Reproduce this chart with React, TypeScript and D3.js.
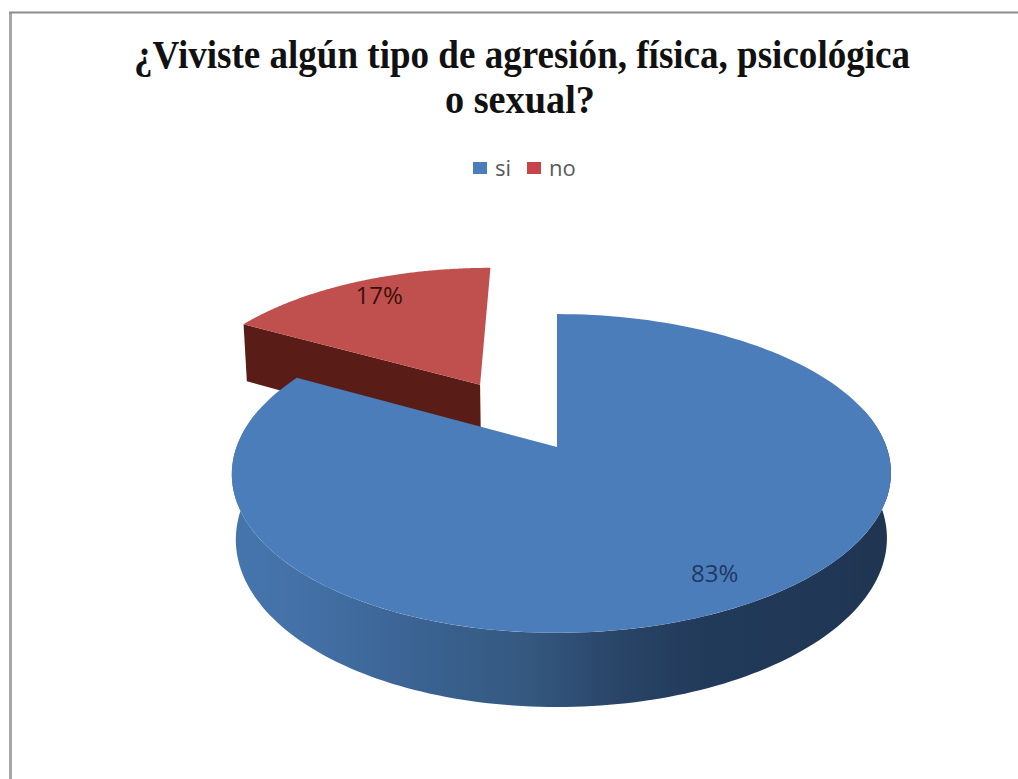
import * as React from 'react';
import * as d3 from 'd3';

const categories = ['si', 'no'];
const values = [83, 17];
const labels = ['83%', '17%'];
const titleLines = ['¿Viviste algún tipo de agresión, física, psicológica', 'o sexual?'];

const topColors = ['#4b7dbb', '#c0504d'];
const legendColors = ['#4a7ebb', '#c8444a'];
const explode = [0, 0.5];
const labelNudge = [[1, 9], [5, 6]];

// perspective view of the unit disc, fitted to the picture
const X0 = 557, Y0 = 447, A = 325, B = 155, K = 0.166, DEPTH = 65, KZ = 0.012, SKEW = 4.5;

const project = (u: number, v: number, z: number): [number, number] => {
	const w = 1 + K * v + KZ * z;
	return [X0 + (A * u) / w + SKEW * u * u, Y0 + (-B * v + DEPTH * z) / w];
};

const line = d3.line();

const pie = d3.pie<number>().sort(null).startAngle(0).endAngle(2 * Math.PI);
const arcs = pie(values);

const slices = arcs.map((a, i) => {
	const mid = (a.startAngle + a.endAngle) / 2;
	const ox = Math.sin(mid) * explode[i];
	const oy = Math.cos(mid) * explode[i];
	const at = (ang: number, r: number, z: number) =>
		project(ox + Math.sin(ang) * r, oy + Math.cos(ang) * r, z);
	return {mid, ox, oy, at, start: a.startAngle, end: a.endAngle};
});

const samples = (from: number, to: number, n = 160) =>
	d3.range(n + 1).map(i => from + ((to - from) * i) / n);

const topPath = (s) => {
	const rim = samples(s.start, s.end).map(ang => s.at(ang, 1, 0));
	return line([s.at(0, 0, 0), ...rim]) + 'Z';
};

const wallPath = (s, ang) =>
	line([s.at(0, 0, 0), s.at(ang, 1, 0), s.at(ang, 1, 1), s.at(0, 0, 1)]) + 'Z';

const rimPath = (s, from, to) => {
	const angs = samples(from, to);
	return line([
		...angs.map(ang => s.at(ang, 1, 0)),
		...angs.slice().reverse().map(ang => s.at(ang, 1, 1)),
	]) + 'Z';
};

const sideStops: [number, string][] = [
	[0, '#4675ad'],
	[0.1, '#4371a8'],
	[0.3, '#3a6290'],
	[0.45, '#345880'],
	[0.58, '#2a4568'],
	[0.72, '#223a5a'],
	[1, '#1f3552'],
];

const App = () => {
	const blue = slices[0];
	const red = slices[1];
	return (
		<svg
			width={1018}
			height={779}
			style={{position: 'absolute', left: 0, top: 0, display: 'block', background: '#fff'}}
		>
			<defs>
				<linearGradient id="side" gradientUnits="userSpaceOnUse" x1={232} x2={891} y1={0} y2={0}>
					{sideStops.map(([o, c]) => <stop key={o} offset={o} stopColor={c} />)}
				</linearGradient>
			</defs>

			<line x1={10.5} x2={10.5} y1={12} y2={779} stroke="#a6a6a6" strokeWidth={3} />
			<line x1={9} x2={1018} y1={12.5} y2={12.5} stroke="#8c8c8c" strokeWidth={2} />

			<g fontFamily="'Liberation Serif', serif" fontWeight="bold" fill="#111" textAnchor="start">
				<text x={134} y={68} fontSize={39} textLength={776} lengthAdjust="spacingAndGlyphs">{titleLines[0]}</text>
				<text x={445} y={113} fontSize={39} textLength={150} lengthAdjust="spacingAndGlyphs">{titleLines[1]}</text>
			</g>

			<g fontFamily="'Open Sans', sans-serif" fontSize={22} fill="#595959">
				{categories.map((c, i) => {
					const x = d3.scaleOrdinal<string, number>().domain(categories).range([473, 527])(c);
					return (
						<g key={c}>
							<rect x={x} y={162} width={14} height={12} fill={legendColors[i]} />
							<text x={x + 22} y={176}>{c}</text>
						</g>
					);
				})}
			</g>

			{/* exploded slice first, the big one covers its foot */}
			<path d={wallPath(red, red.start)} fill="#5a1c16" />
			<path d={topPath(red)} fill={topColors[1]} />

			<path d={wallPath(blue, blue.start)} fill="#1f3552" />
			<path d={rimPath(blue, Math.PI * 0.42, Math.PI * 1.58)} fill="url(#side)" />
			<path d={topPath(blue)} fill={topColors[0]} />

			<g fontFamily="'Open Sans', sans-serif" fontSize={24} textAnchor="middle">
				{slices.map((s, i) => {
					const [x, y] = s.at(s.mid, 0.83, 0);
					return (
						<text key={labels[i]} x={x + labelNudge[i][0]} y={y + labelNudge[i][1]} fill={i === 0 ? '#1f3864' : '#3d0f0c'}>
							{labels[i]}
						</text>
					);
				})}
			</g>
		</svg>
	);
};

export default App;
